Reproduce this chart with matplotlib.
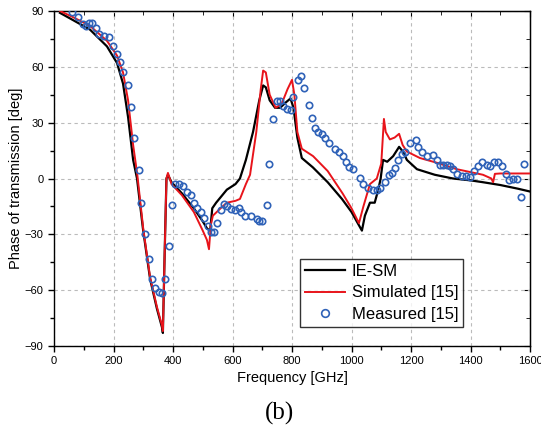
import matplotlib.pyplot as plt
from matplotlib.ticker import MultipleLocator

plt.rcParams['font.family'] = ['Liberation Sans', 'DejaVu Sans']

# IE-SM (black line)
iesm_f = [20, 54, 121, 178, 212, 232, 249, 266, 279, 299, 323, 346, 363, 366, 372, 378, 383, 395,
          430, 470, 500, 515, 525, 532, 545, 581, 610, 625, 645, 669, 690, 703, 712, 725, 743,
          760, 780, 795, 805, 818, 833, 870, 920, 968, 1000, 1035, 1045, 1062, 1078, 1090,
          1098, 1106, 1120, 1140, 1160, 1175, 1186, 1220, 1280, 1341, 1400, 1442, 1500, 1560, 1600]
iesm_p = [89, 86, 80, 71, 62, 51, 33, 10, 0, -27, -54, -70, -80, -83, -40, 0, 2, -2,
          -8, -16, -23, -27, -28, -16, -13, -6, -3, 0, 10, 25, 42, 50, 49, 42, 38,
          38, 41, 43, 38, 22, 11, 6, -2, -11, -18, -28, -20, -13, -13, -6,
          0, 10, 9, 12, 17, 14, 10, 5, 2, 0, -1, -2, -3.5, -5.5, -7]

# Simulated [15] (red line)
sim_f = [20, 60, 121, 178, 212, 232, 249, 266, 280, 300, 323, 346, 363, 366, 372, 378, 383, 395,
         430, 470, 500, 514, 521, 527, 534, 560, 581, 610, 625, 645, 659, 680, 695, 703, 712,
         725, 745, 765, 785, 800, 808, 818, 833, 871, 920, 970, 1000, 1025, 1040, 1062, 1085,
         1100, 1109, 1115, 1129, 1145, 1160, 1172, 1186, 1230, 1286, 1354, 1442, 1470, 1476,
         1482, 1500, 1600]
sim_p = [90, 87, 82, 74, 66, 57, 42, 18, 2, -27, -53, -69, -79, -82, -40, 0, 3, -3,
         -9, -18, -28, -33, -38, -25, -20, -16, -13, -12, -11, -3, 2, 25, 48, 58, 57,
         45, 38, 40, 48, 53, 45, 25, 16, 12, 4, -8, -16, -24, -15, -3, 0,
         8, 32, 25, 21, 22, 24, 18, 14.5, 11, 8.5, 5, 2, 0, -2,
         2.5, 2.7, 2.7]

# Measured [15] (blue circles)
meas_f = [60, 80, 97, 108, 118, 128, 141, 151, 168, 185, 198, 212, 222, 232, 249, 259, 269, 286,
          292, 306, 319, 330, 339, 353, 363, 373, 386, 397, 407, 420, 434, 447, 460, 471, 481,
          494, 504, 518, 528, 538, 548, 561, 571, 581, 595, 608, 622, 629, 642, 662, 682, 689,
          699, 716, 723, 736, 749, 760, 770, 783, 796, 804, 820, 830, 840, 857, 867, 877, 887,
          900, 911, 924, 945, 958, 971, 981, 992, 1005, 1029, 1039, 1056, 1072, 1086, 1096,
          1113, 1126, 1136, 1146, 1156, 1170, 1180, 1197, 1217, 1224, 1237, 1254, 1274, 1287,
          1297, 1307, 1321, 1331, 1341, 1354, 1371, 1385, 1398, 1412, 1425, 1439, 1455, 1466,
          1479, 1492, 1506, 1519, 1529, 1543, 1556, 1570, 1580]
meas_p = [89.5, 87, 83, 82, 83.5, 83.5, 81, 77.6, 76.5, 76, 71, 67, 62.6, 57, 50, 38.5, 22, 4.6,
          -13, -30, -43, -54, -59, -61, -61.5, -54, -36, -14, -2.7, -2.7, -4, -7.5, -9, -13, -15.6,
          -18, -21, -25.6, -28.5, -28.5, -24, -17, -13.5, -15, -16.6, -17, -16, -18, -20, -20, -21.5, -23,
          -23, -14, 7.8, 32, 41.6, 41.6, 39, 37.5, 37, 44, 53, 55, 48.6, 39.5, 32.5, 27, 25,
          24, 22, 19, 16, 14, 12, 9, 6, 5, 0.5, -2.7, -5, -6, -6, -5,
          -2, 2, 2.7, 5.6, 10, 13, 14.5, 19, 20.7, 17, 14, 12, 12.5, 10,
          7.5, 7.5, 7.5, 6.6, 5, 2.2, 1.6, 1.6, 1, 3.8, 6.6, 8.6, 7.5, 6.6,
          8.6, 8.6, 6.6, 2.2, -1, -0.5, -0.5, -10, 8]

fig = plt.figure(figsize=(5.41, 4.28), dpi=100)
ax = fig.add_axes([54 / 541, 82 / 428, 476 / 541, 335 / 428])

ax.plot(iesm_f, iesm_p, color='black', lw=1.6, label='IE-SM', zorder=3)
ax.plot(sim_f, sim_p, color='#e8141b', lw=1.4, label='Simulated [15]', zorder=4)
ax.plot(meas_f, meas_p, 'o', ms=4.6, mfc='none', mec='#2f62b8', mew=1.2,
        label='Measured [15]', zorder=5)

ax.set_xlim(0, 1600)
ax.set_ylim(-90, 90)
ax.xaxis.set_major_locator(MultipleLocator(200))
ax.xaxis.set_minor_locator(MultipleLocator(100))
ax.yaxis.set_major_locator(MultipleLocator(30))
ax.yaxis.set_minor_locator(MultipleLocator(15))
ax.tick_params(which='both', direction='out', labelsize=8, width=1, top=False, right=False)
ax.tick_params(which='major', length=4)
ax.tick_params(which='minor', length=3)

# mirrored inward ticks on top and right
secx = ax.secondary_xaxis('top')
secx.xaxis.set_major_locator(MultipleLocator(200))
secx.xaxis.set_minor_locator(MultipleLocator(100))
secx.tick_params(which='both', direction='in', labeltop=False)
secx.tick_params(which='major', length=4)
secx.tick_params(which='minor', length=3)
secy = ax.secondary_yaxis('right')
secy.yaxis.set_major_locator(MultipleLocator(30))
secy.yaxis.set_minor_locator(MultipleLocator(15))
secy.tick_params(which='both', direction='in', labelright=False)
secy.tick_params(which='major', length=4)
secy.tick_params(which='minor', length=3)

ax.grid(True, which='major', ls=(0, (3, 3)), color='#bbbbbb', lw=0.8)
for s in ax.spines.values():
    s.set_linewidth(1.0)

ax.set_xlabel('Frequency [GHz]', fontsize=10.5, labelpad=3)
ax.set_ylabel('Phase of transmission [deg]', fontsize=10.5, labelpad=1)

leg = ax.legend(loc='lower left', bbox_to_anchor=(246 / 476, 19 / 335), fontsize=12,
                frameon=True, fancybox=False, edgecolor='black', handlelength=2.4,
                borderpad=0.3, labelspacing=0.4, handletextpad=0.4, borderaxespad=0,
                markerscale=1.2)
leg.get_frame().set_linewidth(1.0)

fig.text(280 / 541, 1 - 413 / 428, '(b)', family=['Liberation Serif', 'DejaVu Serif'],
         fontsize=18, ha='center', va='center')

fig.savefig('out.png', dpi=100)
